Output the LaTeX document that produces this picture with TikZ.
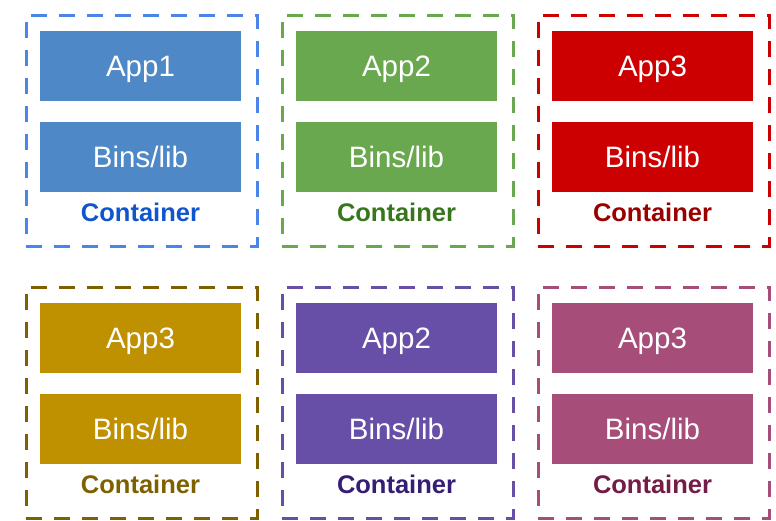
\documentclass[tikz,border=0pt]{standalone}
\usepackage{fontspec}
\setmainfont{Liberation Sans}
\definecolor{blueFrame}{HTML}{4A86E8}
\definecolor{blueFill}{HTML}{4F88C6}
\definecolor{blueText}{HTML}{1155CC}
\definecolor{greenFrame}{HTML}{6AA84F}
\definecolor{greenFill}{HTML}{6AA84F}
\definecolor{greenText}{HTML}{38761D}
\definecolor{redFrame}{HTML}{CC0000}
\definecolor{redFill}{HTML}{CC0000}
\definecolor{redText}{HTML}{990000}
\definecolor{goldFrame}{HTML}{7F6000}
\definecolor{goldFill}{HTML}{BF9000}
\definecolor{goldText}{HTML}{7F6000}
\definecolor{purpleFrame}{HTML}{674EA7}
\definecolor{purpleFill}{HTML}{674EA7}
\definecolor{purpleText}{HTML}{351C75}
\definecolor{plumFrame}{HTML}{A64D79}
\definecolor{plumFill}{HTML}{A64D79}
\definecolor{plumText}{HTML}{741B47}
\begin{document}
\begin{tikzpicture}[x=1pt,y=-1pt,
  frame/.style={draw=#1, line width=3.5pt, dash pattern=on 16pt off 12pt,
    minimum width=231pt, minimum height=231pt, inner sep=0pt},
  layer/.style={fill=#1, text=white, minimum width=201pt, minimum height=70pt,
    inner sep=0pt, text height=21pt, text depth=0pt,
    font=\fontsize{29.5}{30}\selectfont},
  caption/.style={text=#1, inner sep=0pt, text height=18pt, text depth=0pt,
    font=\bfseries\fontsize{25.5}{26}\selectfont}]
  \useasboundingbox (0,0) rectangle (776,520);
  % one container per entry: name / x offset / y offset / colour / app label
  \foreach \n/\dx/\dy/\col/\app in {
      1/0/0/blue/App1, 2/256/0/green/App2, 3/512/0/red/App3,
      4/0/272/gold/App3, 5/256/272/purple/App2, 6/512/272/plum/App3}{
    \node[frame=\col Frame] (box\n) at (141.75+\dx,130.75+\dy) {};
    \node[layer=\col Fill] (app\n) at (140.5+\dx,66+\dy) {\app};
    \node[layer=\col Fill] (lib\n) at (140.5+\dx,157+\dy) {Bins/lib};
    \node[caption=\col Text] (cap\n) at (140.5+\dx,212.5+\dy) {Container};
  }
\end{tikzpicture}
\end{document}
